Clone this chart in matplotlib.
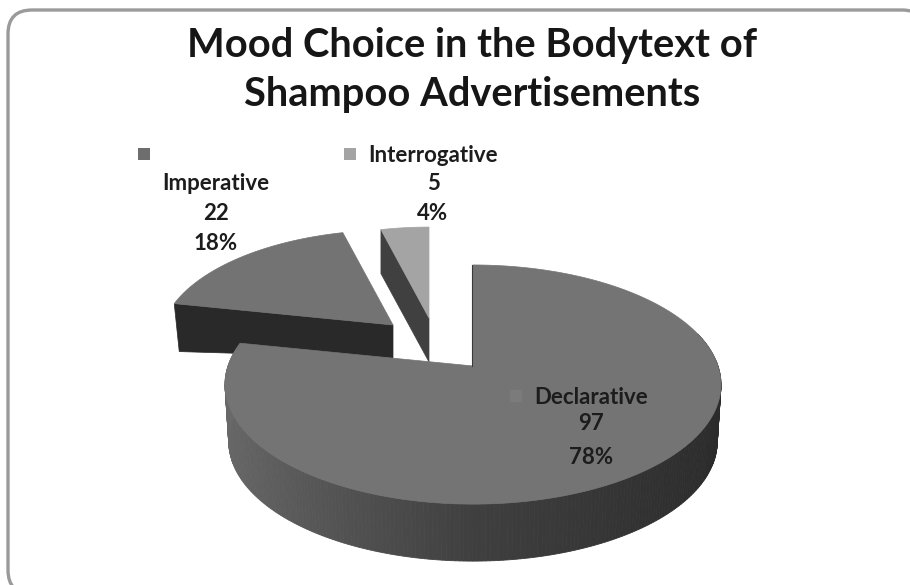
import numpy as np
import matplotlib
matplotlib.use("Agg")
import matplotlib.pyplot as plt
from matplotlib.patches import Polygon, FancyBboxPatch, Rectangle

categories = ["Declarative", "Imperative", "Interrogative"]
counts = [97, 22, 5]
percent_labels = ["78%", "18%", "4%"]
title_text = "Mood Choice in the Bodytext of\nShampoo Advertisements"

W, H = 910, 585
fig = plt.figure(figsize=(W / 100, H / 100), dpi=100, facecolor="white")
ax = fig.add_axes([0, 0, 1, 1])
ax.set_xlim(0, W)
ax.set_ylim(H, 0)
ax.axis("off")
FONT = ["Lato", "DejaVu Sans"]

ax.add_patch(FancyBboxPatch((8, 10), 918, 584, boxstyle="round,pad=0,rounding_size=24",
                            fc="white", ec="#9a9a9a", lw=2.4))

fractions = np.array(counts) / sum(counts)
edges = 90 - 360 * np.concatenate([[0], np.cumsum(fractions)])
top_colors = ["#747474", "#737373", "#a4a4a4"]

K = 0.155  # foreshortening of the tilted pie
RX, RY = 245, 116.7


def rim(cx, cy, scale, a0, a1, n=150):
    t = np.radians(np.linspace(a0, a1, n))
    u, v = np.cos(t), np.sin(t)
    s = scale / (1 + K * v)
    return np.c_[cx + RX * u * s, cy - RY * v * s], u, v


def shade(u):
    v = np.interp(u, [-1, 0, 1], [0.41, 0.25, 0.165])
    return (v, v, v)


# Imperative slice
i = 1
c = np.array([393.0, 325.0])
arc, _, _ = rim(c[0], c[1], 0.94, edges[i], edges[i + 1])
p0 = arc[0]
ax.add_patch(Polygon([p0, c, c + (0, 33), p0 + (5, 48)], fc="#292929", ec="#292929", lw=0.5, zorder=2))
ax.add_patch(Polygon(np.vstack([[c], arc]), fc=top_colors[i], ec=top_colors[i], lw=0.5, zorder=3))

# Interrogative slice
i = 2
c = np.array([429.0, 318.0])
arc, _, _ = rim(c[0], c[1], 0.9, edges[i], edges[i + 1])
p0 = arc[0]
ax.add_patch(Polygon([p0, c, c + (0, 44), p0 + (0, 44)], fc="#404040", ec="#404040", lw=0.5, zorder=2))
ax.add_patch(Polygon(np.vstack([[c], arc]), fc=top_colors[i], ec=top_colors[i], lw=0.5, zorder=3))

# Declarative slice
i = 0
c = np.array([473.0, 366.0])
d = 57
arc, us, vs = rim(c[0], c[1], 1.0, edges[i], edges[i + 1], 320)
low = arc.copy()
low[:, 0] = c[0] + (arc[:, 0] - c[0]) * 0.985
low[:, 1] += d
for k in range(len(arc) - 1):
    if vs[k] < 0.3:
        col = shade(us[k])
        q = [arc[k], arc[k + 1], low[k + 1], low[k]]
        ax.add_patch(Polygon(q, fc=col, ec=col, lw=0.6, zorder=4))
ax.add_patch(Polygon(np.vstack([[c], arc]), fc=top_colors[i], ec=top_colors[i], lw=0.5, zorder=5))
ax.plot([c[0] - 1, arc[0][0] - 1], [c[1], arc[0][1]], color="#3a3a3a", lw=0.8, zorder=5)

# Labels
txt = dict(family=FONT, fontsize=16, fontweight="bold", color="#1c1c1c", ha="center", va="center", zorder=7)
ax.text(591, 397, categories[0], **txt)
ax.text(591, 424, str(counts[0]), **txt)
ax.text(591, 457, percent_labels[0], **txt)
ax.add_patch(Rectangle((510, 390), 12, 12, fc="#7b7b7b", ec="none", zorder=6))

ax.text(216, 183, categories[1], **txt)
ax.text(216, 213, str(counts[1]), **txt)
ax.text(216, 244, percent_labels[1], **txt)
ax.add_patch(Rectangle((138, 148), 12, 12, fc="#6e6e6e", ec="none", zorder=6))

ax.text(433, 155, categories[2], **txt)
ax.text(433, 184, str(counts[2]), **txt)
ax.text(433, 214, percent_labels[2], **txt)
ax.add_patch(Rectangle((344, 148), 12, 12, fc="#a4a4a4", ec="none", zorder=6))

ax.text(472, 70, title_text, family=FONT, fontsize=28.7, fontweight="bold", color="#161616",
        ha="center", va="center", linespacing=1.4, zorder=7)

fig.savefig("out.png", dpi=100, facecolor="white")
